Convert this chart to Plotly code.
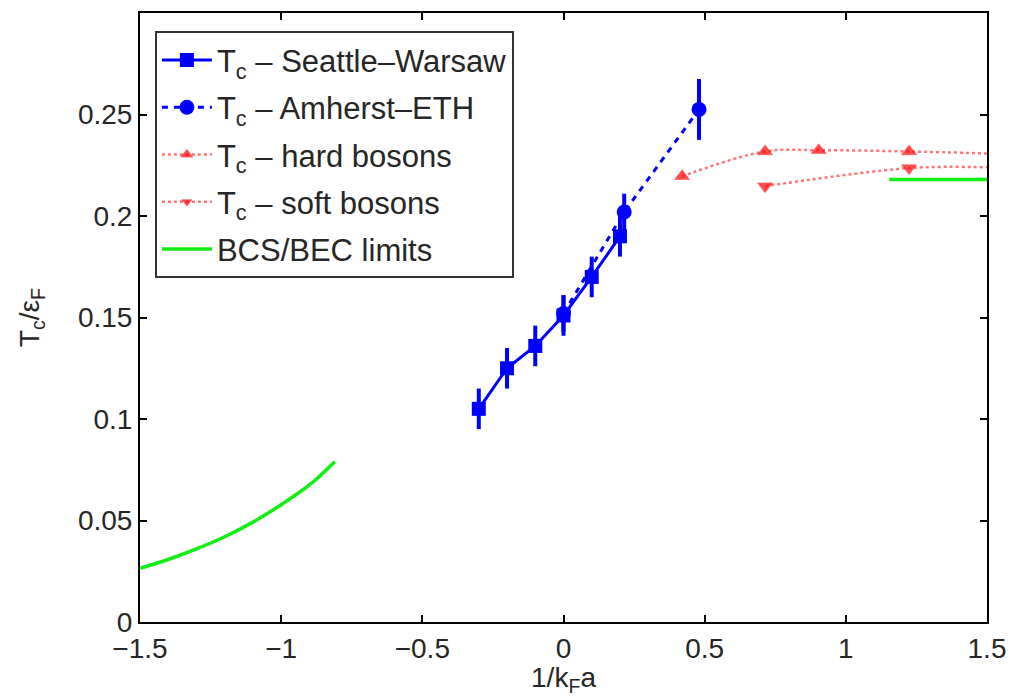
import plotly.graph_objects as go

# Seattle-Warsaw
sw_x = [-0.3, -0.2, -0.1, 0.0, 0.1, 0.2]
sw_y = [0.105, 0.125, 0.136, 0.151, 0.170, 0.190]
sw_err = [0.010, 0.010, 0.010, 0.010, 0.010, 0.010]

# Amherst-ETH
ae_x = [0.0, 0.215, 0.48]
ae_y = [0.152, 0.202, 0.2525]
ae_err = [0.009, 0.009, 0.015]

# hard bosons
hb_x = [0.42, 0.714, 0.904, 1.224, 1.5]
hb_y = [0.2196, 0.2318, 0.2324, 0.2318, 0.2308]
hb_msize = [13, 13, 13, 13, 0]

# soft bosons
sb_x = [0.714, 1.224, 1.5]
sb_y = [0.2147, 0.2236, 0.2240]
sb_msize = [13, 13, 0]

# BCS limit
bcs_x = [-1.5, -1.4, -1.3, -1.2, -1.1, -1.0, -0.9, -0.81]
bcs_y = [0.0265, 0.0308, 0.0360, 0.0420, 0.0492, 0.0578, 0.0675, 0.0790]

# BEC limit
bec_x = [1.154, 1.5]
bec_y = [0.218, 0.218]

BLUE = "#0000ff"
RED = "#ff0000"
GREEN = "#11ee11"
FONT = "Liberation Sans, Arial, sans-serif"
TXT = "#262626"
FS = 28

fig = go.Figure()

fig.add_trace(go.Scatter(
    x=sw_x, y=sw_y, mode="lines+markers",
    name="T<sub>c</sub> \u2013 Seattle\u2013Warsaw", legendgroup="sw",
    line=dict(color=BLUE, width=3),
    marker=dict(symbol="square", size=14, color=BLUE),
    error_y=dict(type="data", array=sw_err, color=BLUE, thickness=4, width=0),
))
fig.add_trace(go.Scatter(
    x=ae_x, y=ae_y, mode="lines+markers",
    name="T<sub>c</sub> \u2013 Amherst\u2013ETH", legendgroup="ae",
    line=dict(color=BLUE, width=3, dash="6px,6px"),
    marker=dict(symbol="circle", size=15, color=BLUE),
    error_y=dict(type="data", array=ae_err, color=BLUE, thickness=4, width=0),
))
fig.add_trace(go.Scatter(
    x=hb_x, y=hb_y, mode="lines+markers",
    name="T<sub>c</sub> \u2013 hard bosons", legendgroup="hb",
    line=dict(color="rgba(255,0,0,0.55)", width=2.5, dash="dot", shape="spline"),
    marker=dict(symbol="triangle-up", size=hb_msize, color=RED),
))
fig.add_trace(go.Scatter(
    x=sb_x, y=sb_y, mode="lines+markers",
    name="T<sub>c</sub> \u2013 soft bosons", legendgroup="sb",
    line=dict(color="rgba(255,0,0,0.55)", width=2.5, dash="dot", shape="spline"),
    marker=dict(symbol="triangle-down", size=sb_msize, color=RED),
))
fig.add_trace(go.Scatter(
    x=bcs_x, y=bcs_y, mode="lines",
    name="BCS/BEC limits", legendgroup="lim",
    line=dict(color=GREEN, width=3.5, shape="spline"),
))
fig.add_trace(go.Scatter(
    x=bec_x, y=bec_y, mode="lines",
    showlegend=False, legendgroup="lim",
    line=dict(color=GREEN, width=3.5),
))

axis_common = dict(
    showline=True, linecolor="black", linewidth=2, mirror="ticks",
    ticks="inside", ticklen=7, tickwidth=1.5, tickcolor="black",
    showgrid=False, zeroline=False,
    tickfont=dict(family=FONT, size=FS, color=TXT),
)

fig.update_xaxes(
    range=[-1.5, 1.5], tickvals=[-1.5, -1, -0.5, 0, 0.5, 1, 1.5],
    title=dict(text="1/k<sub>F</sub>a", font=dict(family=FONT, size=FS, color=TXT), standoff=3),
    **axis_common,
)
fig.update_yaxes(
    range=[0, 0.3], tickvals=[0, 0.05, 0.1, 0.15, 0.2, 0.25],
    ticktext=["0", "0.05", "0.1", "0.15", "0.2", "0.25"],
    title=dict(text="T<sub>c</sub>/\u03b5<sub>F</sub>", font=dict(family=FONT, size=FS, color=TXT), standoff=30),
    **axis_common,
)

fig.update_layout(
    width=1017, height=697,
    margin=dict(l=140, r=23, t=11, b=74),
    paper_bgcolor="white", plot_bgcolor="white",
    showlegend=True,
    legend=dict(
        x=0.0176, y=0.970, xanchor="left", yanchor="top",
        bgcolor="white", bordercolor="#333", borderwidth=2,
        font=dict(family=FONT, size=31, color=TXT),
        tracegroupgap=4, itemwidth=50,
    ),
)

fig.write_html("out.html")
